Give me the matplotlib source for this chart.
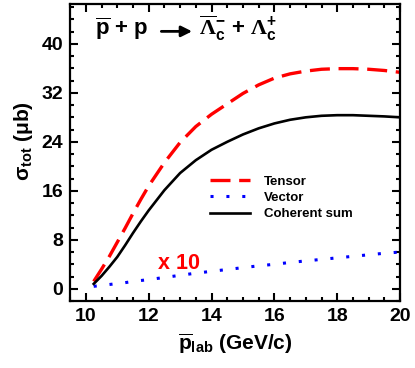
import matplotlib
matplotlib.use("Agg")
import matplotlib.pyplot as plt
from matplotlib.ticker import MultipleLocator

plt.rcParams['font.family'] = 'Liberation Sans'
plt.rcParams['font.weight'] = 'bold'
plt.rcParams['axes.labelweight'] = 'bold'
plt.rcParams['mathtext.fontset'] = 'custom'
plt.rcParams['mathtext.rm'] = 'Liberation Sans:bold'
plt.rcParams['mathtext.it'] = 'Liberation Sans:bold'
plt.rcParams['mathtext.bf'] = 'Liberation Sans:bold'
plt.rcParams['mathtext.sf'] = 'Liberation Serif'

# p_lab (GeV/c)
p_lab = [10.25, 10.5, 10.75, 11, 11.25, 11.5, 11.75, 12, 12.5, 13, 13.5, 14,
         14.5, 15, 15.5, 16, 16.5, 17, 17.5, 18, 18.5, 19, 19.5, 20]
# sigma_tot (mub)
tensor = [1.2, 3.2, 5.3, 7.6, 9.9, 12.3, 14.6, 16.8, 20.6, 23.9, 26.5, 28.5,
          30.2, 31.9, 33.3, 34.4, 35.1, 35.55, 35.85, 35.95, 35.95, 35.85, 35.65, 35.35]
vector_x10 = [0.4, 0.55, 0.7, 0.85, 1.0, 1.2, 1.35, 1.5, 1.85, 2.2, 2.55, 2.85,
              3.15, 3.45, 3.75, 4.0, 4.3, 4.55, 4.8, 5.05, 5.3, 5.55, 5.8, 6.0]
coherent = [0.8, 2.1, 3.6, 5.2, 7.1, 9.1, 11.0, 12.8, 16.1, 18.9, 21.0, 22.7,
            24.0, 25.2, 26.2, 27.0, 27.6, 28.0, 28.25, 28.35, 28.35, 28.25, 28.15, 28.0]

fig = plt.figure(figsize=(4.15, 3.68), dpi=100)
ax = fig.add_axes([0.169, 0.182, 0.795, 0.807])

ax.plot(p_lab, tensor, color='red', lw=2.4, dashes=(6, 2.6), label='Tensor')
ax.plot(p_lab, vector_x10, color='blue', lw=2.2, dashes=(1, 4.2), label='Vector')
ax.plot(p_lab, coherent, color='black', lw=1.9, label='Coherent sum')

ax.set_xlim(9.5, 20)
ax.set_ylim(-2, 46.5)
ax.xaxis.set_major_locator(MultipleLocator(2))
ax.xaxis.set_minor_locator(MultipleLocator(0.5))
ax.yaxis.set_major_locator(MultipleLocator(8))
ax.yaxis.set_minor_locator(MultipleLocator(2))
ax.tick_params(which='both', direction='in', top=True, right=True, width=1.5, labelsize=14)
ax.tick_params(which='major', length=6, pad=5)
ax.tick_params(which='minor', length=3)
for s in ax.spines.values():
    s.set_linewidth(1.6)

ax.set_xlabel(r'$\overline{\rm p}_{\rm lab}$ (GeV/c)', fontsize=15, labelpad=5)
ax.set_ylabel(r'$\sigma_{\rm tot}$ ($\mu$b)', fontsize=15)
ax.yaxis.set_label_coords(-0.108, 0.54)

# reaction label
ax.text(0.076, 0.896, r'$\overline{\rm p}$ + p', transform=ax.transAxes, fontsize=16)
ax.annotate('', xy=(0.378, 0.908), xytext=(0.268, 0.908), xycoords='axes fraction',
            arrowprops=dict(arrowstyle='-|>', color='black', lw=2.0, mutation_scale=16))
ax.text(0.39, 0.896, r'$\overline{\mathsf{\Lambda}}_{\rm c}^{-}$ + $\mathsf{\Lambda}_{\rm c}^{+}$',
        transform=ax.transAxes, fontsize=16)

ax.text(12.3, 4.2, 'x 10', color='red', fontsize=15.5, va='center')

ax.legend(loc='center left', bbox_to_anchor=(0.388, 0.347), frameon=False, fontsize=9.5,
          handlelength=3.0, labelspacing=0.29, handletextpad=1.06)

fig.savefig('out.png', dpi=100)
